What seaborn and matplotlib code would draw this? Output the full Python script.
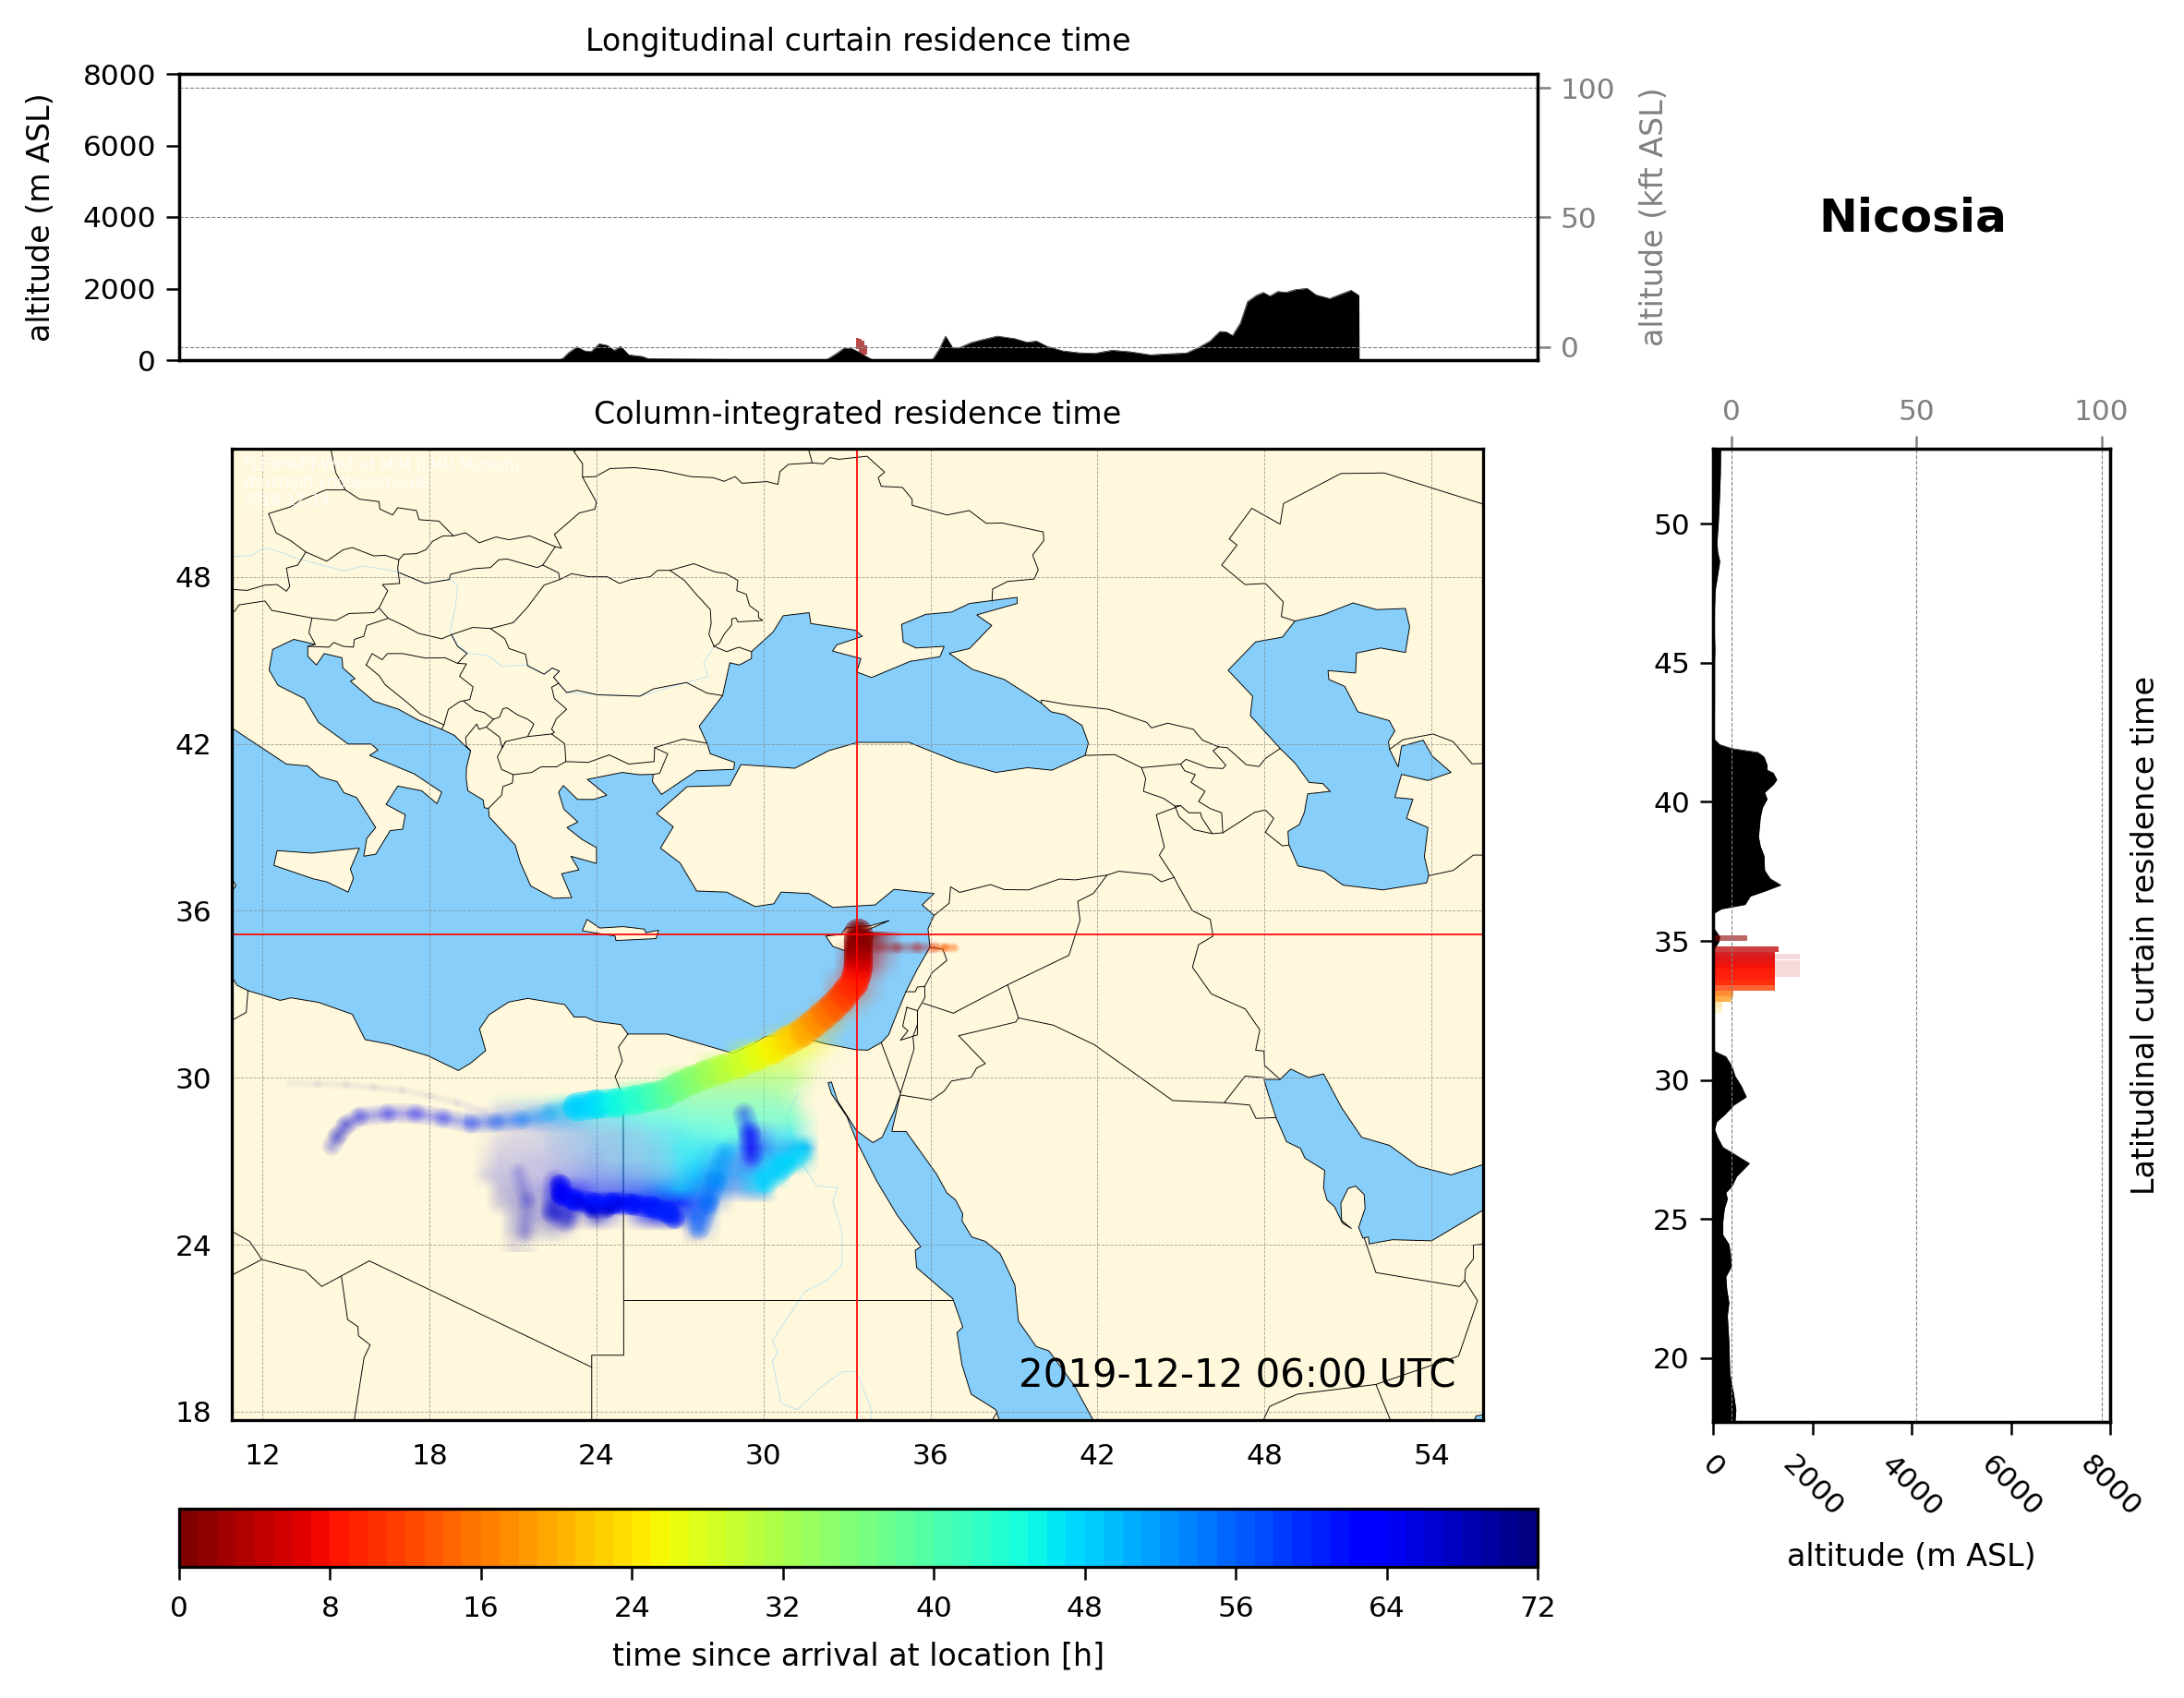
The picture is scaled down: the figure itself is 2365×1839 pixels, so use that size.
import numpy as np
import pandas as pd
import matplotlib
matplotlib.use("Agg")
import matplotlib.pyplot as plt
from matplotlib.collections import LineCollection
from matplotlib.patches import Polygon
from matplotlib.cm import ScalarMappable
from matplotlib.colors import Normalize
import seaborn as sns

# ---------- text ----------
title_lon = "Longitudinal curtain residence time"
title_map = "Column-integrated residence time"
title_lat = "Latitudinal curtain residence time"
station = "Nicosia"
stamp = "2019-12-12 06:00 UTC"
credit = "FLEXPART-WRF at MIM (LMU Munich)\nchristoph.knote@lmu.de\n2019-12-14"
cbar_label = "time since arrival at location [h]"
station_lon, station_lat = 33.36, 35.15
map_lon_ticks = [12, 18, 24, 30, 36, 42, 48, 54]
map_lat_ticks = [18, 24, 30, 36, 42, 48]

# ---------- curtains ----------
terrain_lon = [22.6, 22.72, 22.95, 23.24, 23.52, 23.75, 24.04, 24.32, 24.58, 24.81, 25.1, 25.58, 25.81, 32.2, 32.25, 32.54, 32.82,
               33.11, 33.39, 33.77, 33.9, 35.95, 36.03, 36.25, 36.48, 36.74, 36.97, 37.4, 37.83, 38.34, 38.97, 39.4, 39.75, 40.12,
               40.69, 41.26, 41.83, 42.46, 43.12, 43.84, 44.41, 45.13, 45.55, 45.98, 46.33, 46.56, 46.79, 47.07, 47.33, 47.64, 47.9,
               48.13, 48.42, 48.7, 49.05, 49.47, 49.79, 50.28, 50.7, 51.05, 51.33, 51.34]
terrain_lon_alt = [0, 40, 215, 370, 258, 240, 456, 413, 275, 387, 146, 103, 34, 0, 34, 172, 327,
                   327, 215, 43, 0, 0, 34, 300, 670, 344, 344, 490, 576, 670, 600, 500, 533, 387,
                   258, 206, 189, 275, 232, 146, 172, 198, 344, 533, 800, 791, 688, 1032, 1634, 1806, 1892,
                   1789, 1918, 1892, 1970, 2004, 1823, 1720, 1849, 1952, 1806, 0]
terrain_lat = [52.68, 51.79, 50.86, 50, 49.35, 49, 48.65, 48.3, 47.6, 47.02, 46.2, 45.51, 45.04, 43.88, 42.25, 42.06, 41.92, 41.78,
               41.62, 41.32, 41.15, 41.04, 40.8, 40.62, 40.34, 40.1, 39.8, 39.45, 38.75, 38.4, 38.06, 37.54, 37.24, 37.01, 36.78,
               36.61, 36.31, 36.15, 36.01, 35.84, 35.42, 35.15, 34.98, 34.75, 34.68, 31.07, 31.03, 30.84, 30.49, 30.14, 29.79, 29.39, 29.09,
               28.74, 28.5, 28.23, 27.93, 27.58, 27.35, 27, 26.53, 26.18, 25.95, 25.72, 25.37, 24.9, 24.43, 24.09, 23.74, 23.27,
               22.92, 22.46, 21.99, 21.52, 20.59, 19.43, 18.73, 18.15, 17.68]
terrain_lat_alt = [154, 148, 129, 105, 80, 92, 135, 105, 43, 31, 25, 37, 31, 31, 25, 135, 381, 904,
                   1027, 1089, 1089, 1212, 1285, 1212, 1039, 1089, 996, 953, 916, 953, 1027, 1039, 1150, 1365, 1027,
                   750, 646, 166, 31, 0, 31, 135, 117, 43, 0, 0, 31, 258, 381, 443, 566, 670, 412,
                   228, 74, 31, 92, 197, 412, 732, 474, 381, 258, 289, 228, 197, 197, 320, 351, 363,
                   258, 277, 320, 289, 320, 338, 412, 461, 443]
residue_lon = [33.33, 33.43, 33.53, 33.63]
residue_lon_low = [300, 200, 130, 150]
residue_lon_high = [630, 600, 540, 420]
residue_lon_time = [2, 1, 1, 2]
residue_lat = [35.1, 34.7, 34.5, 34.3, 34.1, 33.9, 33.7, 33.5, 33.3, 33.1, 32.9, 32.7, 32.5]
residue_lat_alt = [690, 1330, 1240, 1240, 1240, 1240, 1240, 1240, 1240, 400, 380, 190, 180]
residue_lat_time = [1, 4, 5, 6, 7, 8, 8, 9, 11, 15, 17, 20, 22]
residue_lat_opacity = [.6, .75, .85, .9, .95, .95, .95, .95, .8, .8, .7, .3, .2]
residue_pale_lat = [34.45, 34.2, 34.0, 33.8]
residue_pale_alt = [1750, 1750, 1750, 1750]

# ---------- map outlines, (lon, lat) ----------
joined_seas = [(10.5, 42.57), (10.9, 42.57), (12.86, 41.27), (13.63, 41.2), (14.07, 40.81), (14.68, 40.64), (14.93, 40.24), (15.38, 40.07),
    (16.07, 38.99), (15.75, 38.6), (15.64, 37.96), (16.07, 38.03), (16.59, 38.88), (17.04, 38.93), (17.13, 39.45), (16.44, 39.82),
    (16.86, 40.48), (17.72, 40.31), (18.27, 39.85), (18.44, 40.26), (17.45, 40.92), (15.85, 41.58), (16.15, 41.78), (15.9, 41.99),
    (15.08, 41.99), (14.01, 42.77), (13.51, 43.62), (12.56, 44.1), (12.24, 44.65), (12.37, 45.39), (13.13, 45.75), (13.9, 45.57),
    (13.63, 45.5), (13.63, 45.14), (13.94, 44.83), (14.22, 45.24), (14.86, 45.09), (14.89, 44.72), (15.33, 44.34), (15.16, 44.25),
    (16.0, 43.53), (16.89, 43.24), (17.6, 42.85), (18.44, 42.52), (18.9, 42.3), (19.23, 41.97), (19.48, 41.75), (19.33, 41.14),
    (19.32, 40.75), (19.38, 40.31), (19.93, 39.98), (19.97, 39.7), (20.12, 39.68), (20.15, 39.37), (21.08, 38.36), (21.27, 37.72),
    (21.64, 36.89), (22.46, 36.45), (23.11, 36.47), (22.75, 37.33), (23.37, 37.47), (23.08, 37.96), (24.0, 37.7), (24.0, 38.27),
    (23.5, 38.55), (22.94, 38.99), (23.33, 39.19), (22.83, 39.65), (22.64, 40.26), (22.81, 40.5), (23.32, 40.0), (23.9, 40.0),
    (24.37, 40.15), (23.67, 40.72), (24.93, 40.97), (25.53, 40.89), (26.04, 40.9), (26.01, 40.64), (26.34, 40.18), (27.6, 41.03),
    (28.93, 41.08), (28.96, 41.33), (28.09, 41.64), (27.97, 42.02), (27.69, 42.63), (28.53, 43.73), (28.79, 44.91), (29.13, 44.83),
    (29.57, 45.06), (29.57, 45.31), (30.34, 46.01), (30.71, 46.6), (31.64, 46.71), (31.7, 46.32), (33.3, 46.08), (33.55, 45.86),
    (32.63, 45.55), (32.48, 45.33), (33.5, 45.06), (33.35, 44.58), (33.88, 44.38), (35.27, 44.96), (36.34, 45.13), (36.49, 45.5),
    (35.48, 45.44), (35.02, 45.66), (34.96, 46.29), (35.83, 46.65), (36.75, 46.73), (37.4, 47.04), (39.11, 47.26), (39.11, 47.04),
    (37.66, 46.63), (38.2, 46.25), (37.4, 45.42), (36.67, 45.25), (37.51, 44.67), (38.65, 44.31), (39.98, 43.46), (40.33, 43.15),
    (40.83, 43.04), (41.44, 42.66), (41.67, 42.02), (41.55, 41.58), (40.36, 41.05), (39.49, 41.14), (38.35, 40.97), (36.95, 41.36),
    (35.22, 42.05), (33.39, 42.05), (32.34, 41.75), (31.13, 41.12), (29.19, 41.25), (28.79, 40.5), (27.26, 40.46), (26.16, 39.49),
    (26.76, 39.02), (26.3, 38.25), (27.0, 37.72), (27.6, 36.71), (28.68, 36.67), (29.7, 36.15), (30.37, 36.25), (30.63, 36.67),
    (31.64, 36.62), (32.49, 36.12), (34.01, 36.21), (34.69, 36.77), (36.13, 36.62), (35.7, 36.21), (36.13, 35.84), (35.91, 35.35),
    (35.98, 34.69), (35.53, 33.91), (35.12, 33.1), (34.69, 32.05), (34.5, 31.55), (34.23, 31.26), (33.74, 30.99), (33.31, 31.01),
    (32.24, 31.22), (30.97, 31.54), (30.04, 31.47), (29.62, 31.19), (28.9, 30.88), (26.53, 31.57), (25.13, 31.57), (24.88, 31.91),
    (23.95, 32.03), (23.61, 32.18), (23.2, 32.18), (22.86, 32.63), (21.53, 32.85), (20.85, 32.72), (20.14, 32.26), (19.8, 31.76),
    (20.02, 30.97), (19.46, 30.51), (19.04, 30.26), (17.94, 30.79), (16.58, 31.2), (15.69, 31.37), (15.23, 32.28), (14.01, 32.71),
    (13.03, 32.87), (12.64, 32.78), (11.48, 33.13), (11.09, 33.32), (10.9, 33.63), (10.5, 33.63)]
caspian = [(49.09, 46.41), (50.09, 46.63), (51.18, 47.06), (52.02, 46.82), (53.06, 46.86), (53.21, 46.21), (53.06, 45.28), (52.17, 45.44),
    (51.3, 45.26), (51.27, 44.54), (50.28, 44.63), (50.31, 44.31), (50.88, 44.06), (51.35, 43.15), (52.48, 42.83), (52.68, 42.46),
    (52.45, 42.08), (52.49, 41.8), (52.8, 41.17), (52.92, 41.91), (53.7, 42.13), (54.02, 41.56), (54.7, 40.97), (53.87, 40.68),
    (52.92, 40.9), (52.68, 40.07), (53.33, 40.01), (53.1, 39.32), (53.87, 38.99), (53.74, 37.94), (53.9, 37.28), (53.82, 37.0),
    (52.25, 36.75), (50.82, 36.92), (50.13, 37.42), (49.2, 37.61), (48.87, 38.38), (48.84, 38.85), (49.25, 39.1), (49.43, 39.54),
    (49.55, 40.2), (50.36, 40.29), (50.09, 40.57), (49.6, 40.61), (49.09, 41.31), (48.56, 41.83), (47.49, 43.01), (47.57, 43.71),
    (46.69, 44.64), (47.68, 45.66), (48.64, 45.83)]
red_sea = [(32.32, 29.82), (32.44, 29.42), (33.0, 28.6), (33.34, 27.73), (34.06, 26.3), (34.81, 25.05), (35.65, 23.93), (35.45, 23.8),
    (35.5, 23.18), (36.8, 22.06), (37.16, 21.04), (36.95, 20.84), (37.13, 19.69), (37.46, 18.63), (38.35, 18.07), (38.53, 17.5),
    (41.95, 17.5), (41.17, 18.94), (40.25, 20.19), (39.8, 20.34), (39.16, 21.25), (39.03, 22.56), (38.5, 23.68), (37.97, 24.12),
    (37.48, 24.28), (37.13, 24.86), (37.16, 25.11), (36.9, 25.61), (36.59, 25.86), (36.21, 26.55), (35.12, 28.07), (34.61, 28.07),
    (34.92, 29.42), (34.69, 28.79), (34.26, 27.86), (33.93, 27.67), (33.34, 28.1), (32.66, 29.17), (32.44, 29.85)]
persian_gulf = [(47.98, 29.94), (48.56, 29.94), (48.94, 30.31), (49.58, 30.01), (50.12, 30.14), (50.77, 28.92), (51.49, 27.86), (52.49, 27.57),
    (53.51, 26.82), (54.7, 26.51), (56.2, 26.99), (56.2, 25.45), (54.0, 24.14), (52.6, 24.18), (51.76, 24.03), (51.73, 24.28), (51.53, 24.24),
    (51.38, 24.62), (51.61, 25.3), (51.58, 25.8), (51.27, 26.11), (51.0, 26.02), (50.74, 25.49), (50.77, 24.87), (51.12, 24.58), (50.8, 24.78),
    (50.51, 25.37), (50.24, 25.61), (50.12, 26.05), (50.16, 26.67), (49.45, 27.11), (49.29, 27.46), (48.79, 27.7), (48.41, 28.57), (48.1, 29.52)]
arabian_sea_corner = [(55.45, 17.5), (55.6, 17.85), (56.2, 17.95), (56.2, 17.5)]
sicily = [(12.53, 38.16), (13.78, 38.07), (15.48, 38.25), (15.16, 37.5), (15.27, 37.17), (15.08, 36.67), (14.31, 37.04), (13.82, 37.15), (12.41, 37.63)]
crete = [(23.66, 35.69), (24.12, 35.38), (24.96, 35.43), (25.72, 35.34), (25.77, 35.21), (26.23, 35.3), (26.14, 35.0), (24.7, 34.93), (24.67, 35.09), (23.49, 35.28)]
cyprus = [(32.24, 35.09), (32.49, 34.72), (32.91, 34.57), (33.37, 34.78), (33.93, 35.03), (33.93, 35.15), (33.5, 35.21), (34.52, 35.65), (33.84, 35.46), (32.96, 35.38), (32.79, 35.15)]
cape_bon = [(10.5, 37.15), (10.9, 37.15), (11.05, 36.9), (10.9, 36.7), (10.5, 36.7)]

borders = [
    [(14.41, 52.8), (14.64, 51.73), (14.98, 51.12), (15.48, 50.79), (16.19, 50.7), (16.22, 50.43), (16.68, 50.22), (16.86, 50.48), (17.53, 50.38), (17.63, 50.05), (18.34, 50.0), (18.86, 49.47), (19.3, 49.58), (19.79, 49.22), (20.39, 49.43), (20.86, 49.33), (21.6, 49.47), (22.52, 49.08), (22.74, 49.03)],
    [(23.67, 52.8), (23.19, 52.5), (23.5, 52.06), (23.5, 51.58), (24.0, 50.68), (23.94, 50.43), (23.38, 50.29), (22.49, 49.52), (22.74, 49.03)],
    [(23.5, 51.58), (23.97, 51.6), (24.49, 51.89), (25.38, 51.92), (26.34, 51.82), (27.38, 51.6), (28.19, 51.56), (28.59, 51.43), (28.98, 51.6), (29.23, 51.36), (30.12, 51.42), (30.52, 51.32), (30.59, 51.78), (30.9, 52.04), (31.75, 52.09), (31.56, 52.8)],
    [(31.75, 52.09), (32.15, 52.06), (32.39, 52.28), (32.7, 52.22), (33.72, 52.33), (34.35, 51.76), (34.12, 51.56), (34.23, 51.25), (34.99, 51.21), (35.34, 50.79), (35.34, 50.57), (36.59, 50.22), (37.39, 50.38), (38.0, 49.92), (38.58, 49.93), (40.05, 49.61), (40.07, 49.3), (39.67, 48.78), (39.87, 48.25), (39.72, 47.92), (38.77, 47.83), (38.23, 47.56), (38.21, 47.12)],
    [(14.98, 51.12), (14.27, 51.12), (13.3, 50.71), (13.01, 50.51), (12.22, 50.27), (12.49, 49.58), (13.01, 49.3), (13.56, 48.89), (14.31, 48.56), (14.9, 48.97), (15.23, 49.05), (16.0, 48.75), (16.41, 48.77), (16.9, 48.61), (17.08, 48.81), (17.53, 48.83), (17.87, 48.97), (18.12, 49.28), (18.49, 49.47), (18.86, 49.47)],
    [(13.56, 48.89), (13.27, 48.42), (12.86, 48.31), (12.98, 47.65), (12.86, 47.48), (12.53, 47.72), (12.09, 47.7), (11.45, 47.51), (10.7, 47.56)],
    [(10.7, 46.76), (11.0, 46.76), (11.16, 46.99), (12.09, 47.13), (12.34, 46.79), (13.78, 46.52), (14.64, 46.43), (15.11, 46.68), (16.0, 46.71), (16.19, 46.88)],
    [(16.9, 48.61), (16.86, 48.31), (16.93, 47.76), (16.31, 47.72), (16.5, 47.5), (16.19, 46.88), (16.52, 46.51)],
    [(16.93, 48.14), (17.85, 47.76), (18.71, 47.9), (18.76, 48.09), (19.6, 48.29), (20.19, 48.33), (20.49, 48.61), (20.79, 48.64), (21.87, 48.33), (22.07, 48.42), (22.52, 49.08)],
    [(22.07, 48.42), (22.64, 48.14), (22.68, 47.9), (22.12, 47.7), (21.5, 46.88), (21.01, 46.35), (20.19, 46.14), (19.56, 46.18), (18.79, 45.92), (18.44, 45.77), (17.6, 45.97), (17.16, 46.21), (16.52, 46.51)],
    [(13.78, 46.52), (13.67, 45.99), (13.9, 45.57)],
    [(13.63, 45.5), (14.39, 45.47), (14.56, 45.64), (14.9, 45.5), (15.27, 45.47), (15.3, 45.75), (15.64, 45.86), (15.75, 46.25), (16.52, 46.51)],
    [(22.68, 47.9), (23.11, 48.11), (23.72, 48.0), (24.39, 48.0), (24.83, 47.76), (25.23, 47.9), (25.93, 48.0), (26.19, 48.23), (26.64, 48.23), (27.16, 47.87), (27.53, 47.43), (28.09, 46.82), (28.12, 46.32), (28.04, 45.94), (28.22, 45.5)],
    [(26.64, 48.23), (27.5, 48.47), (28.27, 48.17), (28.64, 48.12), (29.08, 47.87), (29.04, 47.5), (29.38, 47.37), (29.5, 46.96), (29.82, 46.73), (29.82, 46.54), (29.97, 46.43), (29.08, 46.38), (29.01, 46.52), (28.86, 46.49), (28.86, 46.27), (28.59, 45.94), (28.41, 45.61), (28.22, 45.5)],
    [(28.22, 45.5), (28.68, 45.31), (29.11, 45.47), (29.57, 45.31)],
    [(22.64, 44.17), (22.93, 43.84), (23.3, 43.92), (24.04, 43.76), (25.56, 43.71), (26.04, 43.97), (27.23, 44.2), (27.97, 43.82), (28.53, 43.73)],
    [(20.19, 46.14), (20.71, 45.77), (20.86, 45.42), (21.45, 45.22), (21.53, 44.8), (22.12, 44.5), (22.41, 44.72), (22.67, 44.61), (22.46, 44.39), (22.64, 44.17)],
    [(22.64, 44.17), (22.39, 44.03), (22.49, 43.62), (22.93, 43.24), (22.56, 42.9), (22.39, 42.52), (22.49, 42.41), (22.39, 42.35)],
    [(22.39, 42.35), (22.86, 42.0), (22.9, 41.36), (23.7, 41.33), (24.46, 41.6), (25.16, 41.27), (26.07, 41.36), (26.09, 41.86), (27.11, 42.17), (27.97, 42.02)],
    [(26.09, 41.86), (26.56, 41.64), (26.27, 40.94), (26.04, 40.9)],
    [(22.39, 42.35), (21.53, 42.26), (20.74, 42.08), (20.44, 41.53), (20.59, 41.08), (21.01, 40.89), (21.67, 40.97), (22.01, 41.17), (22.56, 41.17), (22.9, 41.36)],
    [(19.48, 41.75), (19.33, 41.91), (19.3, 42.22), (19.7, 42.71), (19.78, 42.52), (20.04, 42.6), (20.52, 42.24), (20.61, 41.86), (20.74, 42.08)],
    [(21.01, 40.89), (20.98, 40.59), (20.64, 40.46), (20.59, 40.15), (20.12, 39.68)],
    [(20.04, 42.6), (20.3, 42.88), (20.52, 42.96), (20.64, 43.26), (20.79, 43.29), (21.16, 43.04), (21.53, 42.88), (21.75, 42.71), (21.53, 42.26)],
    [(19.23, 43.53), (19.63, 43.21), (19.97, 43.12), (20.3, 42.88)],
    [(15.73, 44.83), (15.94, 45.24), (16.3, 45.02), (16.49, 45.24), (17.04, 45.24), (17.85, 45.08), (18.56, 45.09), (19.01, 44.89), (19.33, 44.87), (19.08, 44.43), (19.57, 44.04), (19.45, 43.59), (19.08, 43.51), (18.68, 43.24), (18.52, 42.68), (17.67, 43.07), (17.23, 43.46), (16.41, 44.12), (16.19, 44.45), (15.73, 44.83)],
    [(18.52, 42.68), (18.44, 42.52)],
    [(18.79, 45.92), (19.01, 45.5), (19.35, 45.25), (19.01, 44.89)],
    [(25.13, 31.57), (24.79, 31.1), (24.93, 30.6), (24.67, 30.04), (24.96, 29.29), (24.98, 20.03), (23.83, 20.03), (23.83, 17.5)],
    [(24.98, 22.02), (36.8, 22.02)],
    [(15.84, 23.42), (23.83, 19.6)],
    [(15.84, 23.42), (14.13, 22.5), (13.54, 23.06), (11.98, 23.47), (11.54, 24.12), (10.7, 24.6)],
    [(11.98, 23.47), (10.7, 22.8)],
    [(14.84, 22.85), (15.06, 21.31), (15.43, 21.06), (15.45, 20.73), (15.87, 20.4), (15.65, 19.94), (15.27, 17.5)],
    [(11.48, 33.13), (11.42, 32.35), (10.7, 31.95)],
    [(34.23, 31.26), (34.92, 29.44)],
    [(34.92, 29.38), (36.03, 29.2), (36.49, 29.52), (36.75, 29.88), (37.46, 30.01), (37.66, 30.35), (37.97, 30.51), (37.01, 31.51), (39.06, 32.0), (39.16, 32.15), (38.77, 33.34), (36.82, 32.32), (35.73, 32.68)],
    [(34.92, 29.44), (35.41, 31.04), (35.37, 31.47), (35.53, 31.91), (35.53, 32.41), (35.8, 32.88), (35.79, 33.28), (36.06, 33.78), (36.59, 34.22), (36.44, 34.62), (35.98, 34.69)],
    [(35.79, 33.28), (35.53, 33.26), (35.45, 33.09), (35.12, 33.09)],
    [(35.15, 32.53), (35.53, 32.41), (35.53, 31.54), (34.92, 31.35), (35.19, 31.69), (35.0, 31.85), (35.15, 32.53)],
    [(38.77, 33.34), (40.97, 34.4), (41.37, 35.65), (41.29, 36.34), (41.85, 36.62), (42.34, 37.28)],
    [(42.34, 37.28), (41.21, 37.11), (40.63, 37.14), (39.52, 36.75), (38.65, 36.76), (38.16, 36.94), (37.05, 36.66), (36.72, 36.86), (36.67, 36.27), (36.14, 35.84)],
    [(42.34, 37.28), (42.77, 37.42), (43.94, 37.3), (44.29, 37.04), (44.75, 37.2), (44.22, 38.0), (44.4, 38.29), (44.11, 39.45), (44.98, 39.78), (45.28, 39.52), (45.7, 39.52), (45.74, 39.35), (46.12, 38.77)],
    [(44.75, 37.2), (44.9, 36.9), (45.41, 36.0), (46.05, 35.69), (46.15, 35.09), (45.63, 34.78), (45.41, 33.97), (46.09, 33.01), (47.31, 32.47), (47.83, 31.72), (47.68, 30.99), (47.98, 30.96), (48.0, 30.44), (48.56, 29.94)],
    [(39.16, 32.15), (40.41, 31.89), (41.88, 31.19), (44.7, 29.18), (46.55, 29.1), (47.3, 30.06), (47.98, 30.0)],
    [(46.55, 29.1), (47.46, 29.02), (47.69, 28.54), (48.41, 28.57)],
    [(39.98, 43.46), (39.98, 43.57), (40.94, 43.4), (42.39, 43.24), (43.76, 42.77), (43.94, 42.57), (44.52, 42.74), (45.44, 42.52), (45.77, 42.13), (46.35, 41.89), (46.66, 41.86), (47.34, 41.25), (47.8, 41.18), (48.03, 41.47), (48.56, 41.83)],
    [(46.35, 41.89), (46.15, 41.75), (46.61, 41.23), (46.5, 41.11), (45.97, 41.14), (45.18, 41.44), (44.98, 41.27), (43.58, 41.14), (42.62, 41.61), (41.55, 41.58)],
    [(43.58, 41.14), (43.73, 40.75), (43.65, 40.29), (44.37, 40.04), (44.78, 39.76), (44.98, 39.78)],
    [(44.98, 41.27), (45.13, 41.03), (45.51, 40.89), (45.36, 40.61), (45.86, 40.29), (45.63, 39.93), (46.05, 39.67), (46.46, 39.52), (46.5, 38.8)],
    [(44.78, 39.76), (44.93, 39.38), (45.47, 38.91), (46.12, 38.77), (46.5, 38.8), (47.65, 39.54), (48.03, 39.62), (48.33, 39.32), (48.03, 38.82), (48.64, 38.33), (48.87, 38.36)],
    [(49.09, 46.41), (48.6, 46.57), (48.67, 47.1), (48.03, 47.76), (47.3, 47.72), (46.46, 48.42), (47.01, 49.14), (46.73, 49.36), (47.54, 50.46), (48.56, 49.89), (48.68, 50.63), (50.74, 51.71), (52.3, 51.73), (56.2, 50.5)],
    [(52.49, 41.8), (52.98, 42.15), (54.05, 42.35), (54.77, 42.08), (55.45, 41.28), (56.2, 41.3)],
    [(53.9, 37.26), (54.78, 37.45), (55.5, 38.0), (56.2, 38.0)],
    [(51.58, 24.24), (52.0, 23.0), (55.0, 22.5), (55.19, 22.72), (55.65, 21.99), (54.97, 20.0), (52.0, 18.98), (49.17, 18.63), (48.18, 18.19), (47.87, 17.5)],
    [(55.19, 22.72), (55.22, 23.12), (55.5, 23.49), (55.5, 23.99), (56.2, 24.05)],
    [(52.0, 18.98), (52.6, 17.5)],
    [(38.1, 17.5), (38.4, 18.0)],
]
danube = [(10.7, 48.69), (11.64, 48.78), (12.0, 49.03), (12.41, 48.97), (13.3, 48.64), (14.93, 48.22), (15.63, 48.39), (16.86, 48.18), (17.82, 47.76), (18.79, 47.9), (19.01, 47.65), (18.93, 46.88), (18.74, 46.05), (19.01, 45.55), (19.38, 45.25), (20.12, 45.17), (20.59, 44.78), (21.53, 44.83), (22.12, 44.5), (22.41, 44.72), (22.67, 44.61), (22.46, 44.39), (22.93, 43.84), (24.04, 43.76), (25.56, 43.71), (27.23, 44.2), (28.01, 44.42), (27.85, 44.89), (28.22, 45.5)]
nile = [(31.22, 29.42), (30.8, 28.54), (31.31, 27.05), (31.9, 26.11), (32.66, 26.05), (32.49, 25.55), (32.83, 24.43), (32.83, 23.31), (32.32, 22.75), (31.48, 22.31), (30.32, 20.56), (30.51, 20.13), (30.32, 19.82), (30.63, 18.32), (31.22, 18.07), (31.98, 18.82), (32.83, 19.44), (33.34, 19.44), (33.84, 18.19), (33.88, 17.5)]

# ---------- plume: diffuse field, hours and opacity read cell by cell (0.5 degree cells) ----------
plume_rows_lat = [35.0, 34.5, 34.0, 33.5, 33.0, 32.5, 32.0, 31.5, 31.0, 30.5, 30.0, 29.5, 29.0, 28.5, 28.0, 27.5, 27.0, 26.5, 26.0, 25.5, 25.0, 24.5, 24.0]
plume_rows_lon0 = [33.5, 33.0, 33.0, 32.5, 32.5, 32.0, 31.0, 30.0, 29.0, 28.0, 26.5, 25.0, 20.5, 19.5, 20.0, 20.0, 20.0, 20.0, 20.5, 20.5, 21.0, 21.0, 21.0]
plume_hours = [
    [1, 1, 2], [3, 3, 4, 5], [6, 6, 6, 7], [11, 9, 9, 9], [13, 11, 11, 11], [17, 14, 13, 13], [22, 20, 18, 17, 18],
    [27, 26, 24, 23, 22, 22], [30, 29, 28, 27, 27, 26, 26, 26], [33, 31, 31, 30, 30, 29, 29, 29, 29],
    [37, 35, 34, 34, 33, 33, 33, 33, 33, 33, 32, 32], [43, 41, 39, 38, 37, 37, 37, 37, 37, 37, 37, 36, 36, 36],
    [58, 56, 54, 52, 50, 48, 47, 45, 44, 43, 42, 41, 41, 41, 40, 40, 40, 40, 40, 40, 40, 40, 40],
    [60, 60, 58, 57, 56, 54, 52, 51, 50, 49, 48, 47, 46, 45, 45, 44, 43, 43, 42, 42, 45, 42, 42, 42, 42],
    [62, 62, 62, 60, 58, 56, 55, 54, 52, 52, 51, 50, 48, 47, 46, 45, 45, 44, 44, 56, 52, 47, 46, 46],
    [64, 64, 63, 62, 60, 58, 56, 55, 54, 53, 52, 51, 50, 48, 46, 46, 47, 47, 50, 62, 55, 50, 50, 50],
    [64, 64, 63, 62, 61, 60, 58, 57, 56, 54, 53, 52, 51, 49, 47, 47, 49, 52, 53, 58, 50, 48, 48, 48],
    [65, 65, 64, 64, 63, 62, 60, 59, 58, 57, 56, 55, 53, 51, 49, 49, 52, 53, 53, 50, 47, 47],
    [66, 66, 65, 65, 63, 62, 62, 60, 60, 59, 58, 56, 53, 50, 52, 54, 54, 55, 50, 47],
    [67, 67, 67, 66, 65, 64, 62, 61, 61, 61, 60, 60, 60, 60, 58, 56, 56],
    [67, 67, 67, 67, 66, 66, 66, 64, 64, 61, 61, 60, 60, 56, 56],
    [68, 68, 68, 67, 67, 67, 67, 66, 66, 66, 66, 66, 66, 56, 56],
    [68, 68],
]
plume_opacity = [
    [.9, .7, .3], [.3, .7, .5, .2], [.4, .6, .4, .1], [.2, .6, .45, .15], [.4, .6, .35, .1], [.4, .6, .45, .12], [.1, .45, .6, .45, .1],
    [.1, .4, .7, .6, .4, .15], [.3, .6, .75, .7, .6, .5, .3, .1], [.5, .75, .75, .7, .65, .6, .5, .3, .1],
    [.3, .75, .8, .75, .65, .6, .6, .6, .55, .55, .3, .05], [.5, .75, .8, .7, .6, .55, .55, .55, .55, .55, .55, .55, .4, .1],
    [.12, .15, .2, .25, .4, .65, .75, .75, .75, .7, .6, .55, .55, .55, .55, .55, .55, .55, .55, .55, .55, .45, .1],
    [.14, .18, .28, .35, .4, .5, .55, .55, .5, .45, .45, .5, .5, .55, .55, .55, .55, .55, .55, .6, .55, .55, .55, .55, .25],
    [.03, .08, .12, .14, .18, .25, .3, .35, .4, .4, .45, .45, .5, .55, .6, .6, .6, .6, .6, .65, .6, .6, .6, .25],
    [.05, .14, .16, .16, .18, .25, .3, .33, .4, .4, .45, .45, .5, .55, .7, .7, .7, .7, .7, .8, .75, .75, .8, .9],
    [.08, .18, .18, .2, .22, .25, .3, .35, .4, .4, .45, .45, .5, .55, .7, .8, .8, .75, .7, .7, .8, .9, .9, .4],
    [.15, .22, .22, .22, .22, .3, .35, .4, .45, .45, .5, .5, .55, .6, .75, .9, .85, .75, .7, .8, .92, .7],
    [.22, .28, .28, .32, .55, .75, .65, .55, .55, .6, .65, .75, .85, .9, .9, .8, .65, .5, .7, .8],
    [.18, .28, .28, .32, .6, .8, .85, .9, .92, .92, .92, .92, .92, .92, .8, .65, .2],
    [.22, .28, .32, .55, .65, .25, .65, .3, .05, .45, .75, .88, .55, .8, .35],
    [.22, .28, .18, .22, .1, 0, 0, 0, 0, 0, 0, 0, 0, .4, .15],
    [.1, .08],
]
# ---------- plume: narrow bands, (lon, lat, hours) ----------
band_core = [(33.4, 35.2, 0), (33.4, 34.9, 1), (33.4, 34.6, 2), (33.4, 34.3, 4), (33.4, 34.0, 6), (33.35, 33.7, 8), (33.25, 33.4, 9), (33.0, 33.1, 10),
             (32.75, 32.8, 12), (32.45, 32.5, 14), (32.1, 32.2, 16), (31.75, 31.9, 18), (31.35, 31.6, 20), (30.9, 31.35, 23), (30.3, 31.0, 25),
             (29.7, 30.75, 27), (29.1, 30.5, 29), (28.5, 30.3, 31), (27.9, 30.1, 33), (27.4, 29.9, 35), (26.9, 29.65, 37), (26.4, 29.4, 39), (25.9, 29.3, 41),
             (25.4, 29.2, 43), (24.7, 29.1, 45), (24.0, 29.05, 47), (23.3, 28.95, 49)]
band_west = [(23.3, 28.95, 49), (22.3, 28.75, 52), (21.3, 28.5, 55), (20.4, 28.4, 58), (19.5, 28.35, 60), (18.5, 28.55, 62), (17.5, 28.7, 63), (16.5, 28.7, 64), (15.5, 28.6, 65), (15.0, 28.3, 66), (14.7, 27.9, 66), (14.5, 27.55, 66)]
band_north = [(13.0, 29.8, 68), (14.0, 29.78, 68), (15.0, 29.75, 68), (16.0, 29.65, 68), (17.0, 29.55, 66), (18.0, 29.35, 66), (19.0, 29.1, 64), (20.0, 28.8, 62)]
band_lebanon = [(34.1, 34.68, 3), (34.8, 34.67, 4), (35.5, 34.67, 5), (36.1, 34.67, 8)]
band_coast = [(36.1, 34.67, 13), (36.5, 34.68, 14), (36.85, 34.68, 15)]
band_blue = [(22.7, 26.15, 63), (22.75, 25.8, 62), (23.2, 25.6, 61), (23.9, 25.5, 61), (24.6, 25.5, 61), (25.3, 25.45, 61), (26.0, 25.35, 60), (26.6, 25.15, 60), (26.8, 24.95, 60)]
band_loop = [(23.3, 25.6, 65), (23.8, 25.2, 66), (24.4, 25.2, 66), (24.8, 25.5, 64)]
band_violet_a = [(21.2, 26.6, 66), (21.5, 25.6, 66), (21.4, 24.4, 67)]
band_violet_b = [(22.5, 26.3, 65), (22.4, 25.2, 66), (22.9, 24.8, 67)]
band_fan = [(27.7, 24.6, 56), (28.0, 25.5, 54), (28.3, 26.3, 51), (28.6, 27.3, 48)]
band_cyan = [(30.1, 26.3, 48), (30.7, 26.8, 47), (31.3, 27.3, 50)]
band_navy = [(29.3, 28.7, 63), (29.5, 28.0, 63), (29.6, 27.2, 64)]

sns.set_theme(style="ticks", rc={"font.family": "DejaVu Sans", "font.size": 10, "axes.labelsize": 10.65, "axes.titlesize": 10.65,
                                 "xtick.labelsize": 10, "ytick.labelsize": 10, "axes.linewidth": 1.05, "axes.edgecolor": "black",
                                 "text.color": "black", "axes.labelcolor": "black", "xtick.color": "black", "ytick.color": "black",
                                 "xtick.major.size": 4.5, "ytick.major.size": 4.5, "xtick.major.width": 0.8, "ytick.major.width": 0.8})

W, H, DPI = 2365, 1839, 225
fig = plt.figure(figsize=(W / DPI, H / DPI), dpi=DPI, facecolor="white")
def add_ax(l, t, r, b):
    return fig.add_axes([l / W, 1 - b / H, (r - l) / W, (b - t) / H])

cmap = plt.get_cmap("jet_r", 72)
norm = Normalize(0, 72)
LAND, WATER = "#FFF8DC", "#87CEFA"

# ---- top curtain ----
ax_top = add_ax(194, 80, 1665, 390)
lon_t = np.array(terrain_lon)
alt_t = np.array(terrain_lon_alt)
sns.lineplot(x=lon_t, y=alt_t, color="black", lw=0.2, ax=ax_top, estimator=None, sort=False)
ax_top.fill_between(lon_t, 0, alt_t, color="black", lw=0)
ax_top.bar(residue_lon, np.array(residue_lon_high) - np.array(residue_lon_low), bottom=residue_lon_low, width=0.1,
           color=cmap(norm(residue_lon_time)), alpha=0.7, lw=0, zorder=3)
ax_top.set_xlim(8.95, 57.75)
ax_top.set_ylim(0, 8000)
ax_top.set_xticks([])
ax_top.set_yticks([0, 2000, 4000, 6000, 8000])
ax_top.set_ylabel("altitude (m ASL)", labelpad=9)
ax_top.set_title(title_lon, pad=8)
ax_top2 = ax_top.twinx()
ax_top2.set_ylim(-5.1, 105.4)
ax_top2.set_yticks([0, 50, 100])
ax_top2.tick_params(axis="y", colors="gray")
ax_top2.grid(axis="y", color="gray", ls="--", lw=0.35)
ax_top2.set_ylabel("altitude (kft ASL)", color="gray", labelpad=8)
for s in ax_top2.spines.values():
    s.set_edgecolor("black")

# ---- map ----
ax = add_ax(251, 486, 1606, 1538)
ax.set_facecolor(LAND)
for poly in (joined_seas, caspian, red_sea, persian_gulf, arabian_sea_corner):
    ax.add_patch(Polygon(poly, closed=True, fc=WATER, ec="black", lw=0.3, zorder=1.2))
for poly in (sicily, crete, cyprus, cape_bon):
    ax.add_patch(Polygon(poly, closed=True, fc=LAND, ec="black", lw=0.3, zorder=1.3))
for river in (danube, nile):
    r = np.array(river)
    ax.plot(r[:, 0], r[:, 1], color="#BFE3F2", lw=0.3, zorder=1.4)
for line in borders:
    b = np.array(line)
    ax.plot(b[:, 0], b[:, 1], color="black", lw=0.3, zorder=1.5)

ax.set_xlim(10.9, 55.85)
ax.set_ylim(17.7, 52.6)
ax.set_xticks(map_lon_ticks)
ax.set_yticks(map_lat_ticks)
ax.tick_params(axis="x", length=0, pad=8)
ax.tick_params(axis="y", length=0, pad=7)
ax.set_axisbelow(False)
ax.grid(color="gray", ls="--", lw=0.28, alpha=0.7, zorder=1.8)
ax.set_title(title_map, pad=8.5)
for s in ax.spines.values():
    s.set_zorder(10)

# diffuse field
lons = np.arange(19.5, 37.01, 0.5)
lats = np.array(plume_rows_lat)
hours = np.full((lats.size, lons.size), np.nan)
opac = np.zeros_like(hours)
for i, (l0, h, o) in enumerate(zip(plume_rows_lon0, plume_hours, plume_opacity)):
    j0 = int(round((l0 - lons[0]) / 0.5))
    hours[i, j0:j0 + len(h)] = h
    opac[i, j0:j0 + len(o)] = o
filled = pd.DataFrame(hours).ffill(axis=1).bfill(axis=1).ffill(axis=0).bfill(axis=0).to_numpy()
rgba = cmap(norm(filled))
rgba[..., 3] = opac
ax.imshow(rgba, extent=(lons[0] - .25, lons[-1] + .25, lats[-1] - .25, lats[0] + .25), origin="upper",
          aspect="auto", interpolation="bilinear", zorder=3)

def band(track, width, strength):
    """Soft-edged stroke: nested widths that build up to the given opacity in the middle."""
    t = np.array(track, float)
    segs = np.stack([t[:-1, :2], t[1:, :2]], axis=1)
    each = 1 - (1 - strength) ** 0.2
    for f in (1, .8, .6, .4, .2):
        lc = LineCollection(segs, cmap=cmap, norm=norm, linewidths=width * f, alpha=each, capstyle="round", zorder=3.2)
        lc.set_array(t[:-1, 2])
        ax.add_collection(lc)

band(band_core, 10, .97)
band(band_west, 7, .3)
band(band_north, 3.5, .06)
band(band_lebanon, 4.5, .3)
band(band_coast, 3.5, .5)
band(band_blue, 7.5, .85)
band(band_loop, 5, .4)
band(band_violet_a, 7, .18)
band(band_violet_b, 8, .3)
band(band_fan, 8, .55)
band(band_cyan, 9, .65)
band(band_navy, 8, .4)

ax.axvline(station_lon, color="red", lw=0.55, zorder=4)
ax.axhline(station_lat, color="red", lw=0.55, zorder=4)
ax.text(0.0085, 0.991, credit, transform=ax.transAxes, color="white", fontsize=5.3, va="top", ha="left", alpha=0.8, linespacing=1.05, zorder=5)
ax.text(0.978, 0.0455, stamp, transform=ax.transAxes, fontsize=13.4, ha="right", va="center", zorder=5)

# ---- side curtain ----
ax_side = add_ax(1855, 486, 2285, 1540)
lat_t = np.array(terrain_lat)
alt_l = np.array(terrain_lat_alt)
sns.lineplot(x=alt_l, y=lat_t, color="black", lw=0.2, ax=ax_side, estimator=None, sort=False, orient="y")
ax_side.fill_betweenx(lat_t, 0, alt_l, color="black", lw=0)
ax_side.barh(residue_pale_lat, residue_pale_alt, height=0.2, color=cmap(norm(5)), alpha=0.15, lw=0, zorder=3)
for la, al, ti, op in zip(residue_lat, residue_lat_alt, residue_lat_time, residue_lat_opacity):
    ax_side.barh(la, al, height=0.2, color=cmap(norm(ti)), alpha=op, lw=0, zorder=3)
ax_side.set_xlim(0, 8000)
ax_side.set_ylim(17.7, 52.7)
ax_side.set_yticks([20, 25, 30, 35, 40, 45, 50])
ax_side.set_xticks([0, 2000, 4000, 6000, 8000])
ax_side.set_xticklabels(["0", "2000", "4000", "6000", "8000"], rotation=-45, ha="center")
ax_side.tick_params(axis="x", pad=5.5)
ax_side.set_xlabel("altitude (m ASL)", labelpad=7)
ax_side.set_ylabel(title_lat, labelpad=7)
ax_side.yaxis.set_label_position("right")
ax_side2 = ax_side.twiny()
ax_side2.set_xlim(-4.89, 102.3)
ax_side2.set_xticks([0, 50, 100])
ax_side2.tick_params(axis="x", colors="gray")
ax_side2.grid(axis="x", color="gray", ls="--", lw=0.35)
for s in ax_side2.spines.values():
    s.set_edgecolor("black")

fig.text(1373 * 2365 / 1568 / W, 1 - 157 * 2365 / 1568 / H, station, fontsize=16, fontweight="bold", ha="center", va="center")

# ---- colourbar ----
cax = add_ax(194, 1634, 1665, 1697)
cb = fig.colorbar(ScalarMappable(norm=norm, cmap=cmap), cax=cax, orientation="horizontal", ticks=list(range(0, 73, 8)))
cb.ax.tick_params(pad=5.5)
cb.set_label(cbar_label, labelpad=6.5)
cb.outline.set_linewidth(1.05)

fig.savefig("out.png", dpi=DPI)
